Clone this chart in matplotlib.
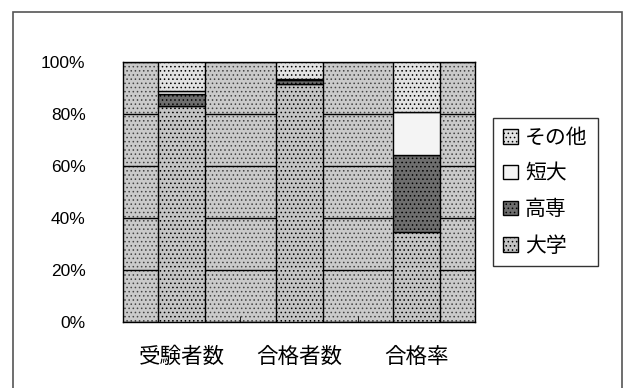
import matplotlib
matplotlib.use("Agg")
import matplotlib.pyplot as plt
from matplotlib.patches import Rectangle

plt.rcParams['font.family'] = ['Liberation Sans', 'Noto Sans CJK JP']
plt.rcParams['hatch.linewidth'] = 0.6

categories = ["受験者数", "合格者数", "合格率"]
series_names = ["大学", "高専", "短大", "その他"]
daigaku = [83.0, 91.5, 34.6]
kousen = [4.7, 1.6, 29.6]
tandai = [1.0, 0.4, 16.6]
sonota = [11.3, 6.5, 19.2]
y_ticks = [0, 20, 40, 60, 80, 100]
y_labels = ["0%", "20%", "40%", "60%", "80%", "100%"]


def main():
    fig = plt.figure(figsize=(6.25, 3.88), dpi=100)
    fig.patches.append(Rectangle((0.021, -0.1), 0.974, 1.069, transform=fig.transFigure,
                                 fill=False, edgecolor="#555555", linewidth=1.2))
    ax = fig.add_axes([0.197, 0.170, 0.563, 0.670])

    # dotted grey plot area like the old Excel pattern
    ax.add_patch(Rectangle((0, 0), 1, 1, transform=ax.transAxes, facecolor="#cacaca",
                           edgecolor="#444444", hatch="....", linewidth=0, zorder=0))

    colors = ["#c4c4c4", "#6e6e6e", "#f4f4f4", "#e2e2e2"]
    hatches = ["....", "....", "", "...."]
    values = [daigaku, kousen, tandai, sonota]
    x = list(range(len(categories)))
    bottom = [0, 0, 0]
    bars = []
    for name, vals, c, h in zip(series_names, values, colors, hatches):
        b = ax.bar(x, vals, 0.4, bottom=bottom, color=c, hatch=h, edgecolor="black",
                   linewidth=1.0, label=name, zorder=3)
        bars.append(b)
        bottom = [p + v for p, v in zip(bottom, vals)]

    ax.set_xlim(-0.5, 2.5)
    ax.set_ylim(0, 100)
    ax.set_yticks(y_ticks)
    ax.set_yticklabels(y_labels, fontsize=12.5)
    ax.set_xticks(x)
    ax.set_xticklabels(categories, fontsize=15.5)
    ax.tick_params(axis="y", length=0, pad=27)
    ax.tick_params(axis="x", length=0, pad=18)
    ax.set_xticks([0.5, 1.5], minor=True)
    ax.tick_params(axis="x", which="minor", direction="in", length=4, color="black")
    ax.yaxis.grid(True, color="black", linewidth=1.0, zorder=1)
    ax.set_axisbelow(True)
    for s in ax.spines.values():
        s.set_color("black")
        s.set_linewidth(1.0)

    handles = [bars[3], bars[2], bars[1], bars[0]]
    labels = [series_names[3], series_names[2], series_names[1], series_names[0]]
    leg = ax.legend(handles, labels, loc="center left", bbox_to_anchor=(1.05, 0.5),
                    fontsize=15, frameon=True, fancybox=False, handlelength=0.7,
                    handleheight=0.7, handletextpad=0.35, labelspacing=0.8,
                    borderpad=0.5, borderaxespad=0)
    leg.get_frame().set_edgecolor("black")
    leg.get_frame().set_linewidth(1.0)

    fig.savefig("out.png", dpi=100)


if __name__ == "__main__":
    main()
